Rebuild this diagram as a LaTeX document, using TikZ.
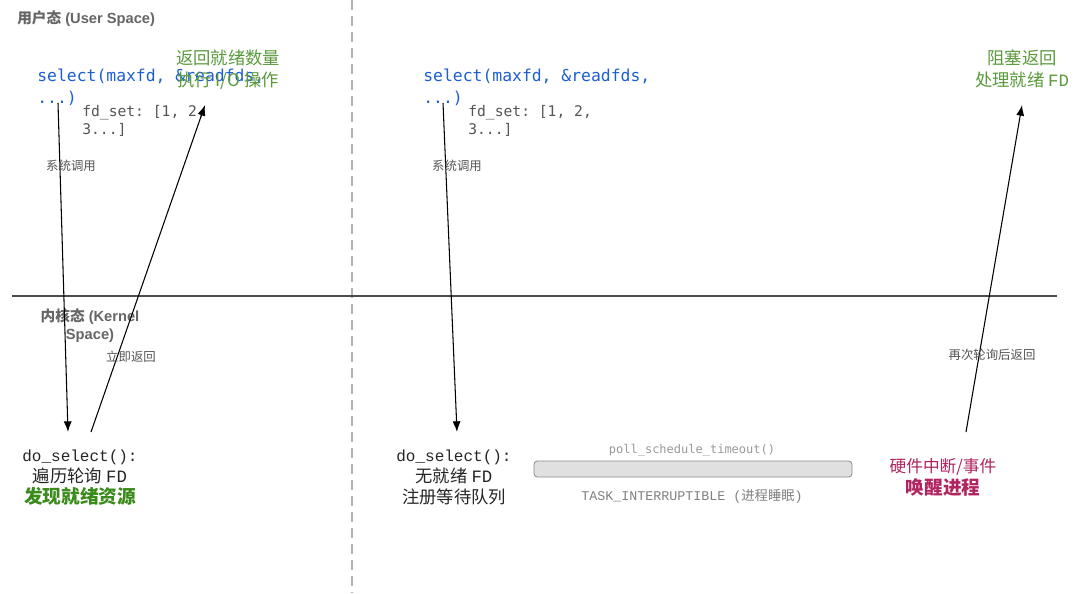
\documentclass[tikz,border=0pt]{standalone}
\usepackage{fontspec}
\setmainfont{Liberation Sans}
\newfontfamily\cjk{Noto Sans CJK SC}
\newfontfamily\codefont{DejaVu Sans Mono}
\newfontfamily\cour{Liberation Mono}
\usetikzlibrary{arrows.meta}
\frenchspacing
\definecolor{codeblue}{HTML}{1C5FCF}
\definecolor{lblgreen}{HTML}{5A9A3C}
\definecolor{boldgreen}{HTML}{3A8A1C}
\definecolor{crimson}{HTML}{B0245F}
\definecolor{headgray}{HTML}{666666}
\definecolor{txtgray}{HTML}{555555}
\definecolor{lightgray}{HTML}{999999}
\definecolor{bargray}{HTML}{E0E0E0}
\begin{document}
\begin{tikzpicture}[x=0.75pt,y=-0.75pt,
  header/.style={font=\bfseries\fontsize{11}{14}\selectfont, text=headgray, inner sep=0},
  code/.style={font=\codefont\fontsize{12.3}{16.5}\selectfont, text=codeblue, anchor=base west, align=left, inner sep=0},
  fdset/.style={font=\codefont\fontsize{11}{13.5}\selectfont, text=txtgray, anchor=base west, align=left, inner sep=0},
  greenlbl/.style={font=\cjk\fontsize{13}{16.5}\selectfont, text=lblgreen, anchor=base, align=center, inner sep=0},
  arrlbl/.style={font=\cjk\fontsize{9.3}{11}\selectfont, text=txtgray, inner sep=0},
  dsline/.style={font=\fontsize{13}{15}\selectfont, text=black!85, anchor=base, inner sep=0},
  arr/.style={-{Latex[length=8pt,width=6pt]}, line width=0.8pt, black}
]
\useasboundingbox (0,0) rectangle (1080,593);
\fill[white] (0,0) rectangle (1080,593);

% separators
\draw[dash pattern=on 7.5pt off 4.5pt, line width=0.8pt, black!30] (352,0) -- (352,593);
\draw[line width=1.6pt, black!70] (12,296) -- (1057,296);

% headers
\node[header, anchor=base west] (user) at (17,23) {{\cjk\bfseries 用户态} (User Space)};
\node[header, font=\bfseries\fontsize{11}{13.5}\selectfont, align=center, anchor=base] (kernel) at (90,339) {{\cjk\bfseries 内核态} (Kernel\\Space)};

% left column
\node[code] (selL) at (37,103) {select(maxfd, \&readfds,\\...)};
\node[fdset] (fdL) at (82,134) {fd\_set: [1, 2,\\3...]};
\node[greenlbl] (retL) at (228,86) {返回就绪数量\\执行 I/O 操作};

\node[dsline, font=\cour\fontsize{12}{15}\selectfont] (dsL1) at (80,461) {do\_select():};
\node[dsline, font=\cjk\fontsize{13}{15}\selectfont] (dsL2) at (80,482) {遍历轮询 {\cour FD}};
\node[dsline, font=\cjk\bfseries\fontsize{14}{15}\selectfont, text=boldgreen] (dsL3) at (80,503) {发现就绪资源};

\coordinate (a1s) at (58,103);
\coordinate (a1e) at (68,432);
\coordinate (a2s) at (91,432);
\coordinate (a2e) at (205,105);
\draw[arr] (a1s) -- (a1e);
\draw[arr] (a2s) -- (a2e);
\node[arrlbl] (l1) at (71,166) {系统调用};
\node[arrlbl] (l2) at (131,357) {立即返回};

% right column
\node[code] (selR) at (423,103) {select(maxfd, \&readfds,\\...)};
\node[fdset] (fdR) at (468,134) {fd\_set: [1, 2,\\3...]};

\node[dsline, font=\cour\fontsize{12}{15}\selectfont] (dsR1) at (454,461) {do\_select():};
\node[dsline, font=\cjk\fontsize{13}{15}\selectfont] (dsR2) at (454,482) {无就绪 {\cour FD}};
\node[dsline, font=\cjk\fontsize{13}{15}\selectfont] (dsR3) at (454,503) {注册等待队列};

\coordinate (a3s) at (443,103);
\coordinate (a3e) at (457,432);
\draw[arr] (a3s) -- (a3e);
\node[arrlbl] (l3) at (457,166) {系统调用};

% sleep bar
\node[draw=black!45, fill=bargray, rounded corners=2.5pt, line width=0.6pt,
      minimum width=238.5pt, minimum height=12pt, inner sep=0] (bar) at (693,469) {};
\node[font=\codefont\fontsize{9}{11}\selectfont, text=lightgray, inner sep=0] (poll) at (692,450) {poll\_schedule\_timeout()};
\node[font=\cour\fontsize{10}{12}\selectfont, text=black!50, inner sep=0] (task) at (692,496) {TASK\_INTERRUPTIBLE ({\cjk 进程睡眠})};

% wake-up
\node[font=\cjk\fontsize{12.5}{15}\selectfont, text=crimson, anchor=base, inner sep=0] (hw1) at (943,472) {硬件中断/事件};
\node[font=\cjk\bfseries\fontsize{14}{15}\selectfont, text=crimson, anchor=base, inner sep=0] (hw2) at (943,494) {唤醒进程};

\coordinate (a4s) at (966,432);
\coordinate (a4e) at (1022,105);
\draw[arr] (a4s) -- (a4e);
\node[arrlbl] (l4) at (992,355) {再次轮询后返回};

\node[greenlbl] (retR) at (1022,86) {阻塞返回\\处理就绪 {\cour FD}};
\end{tikzpicture}
\end{document}
